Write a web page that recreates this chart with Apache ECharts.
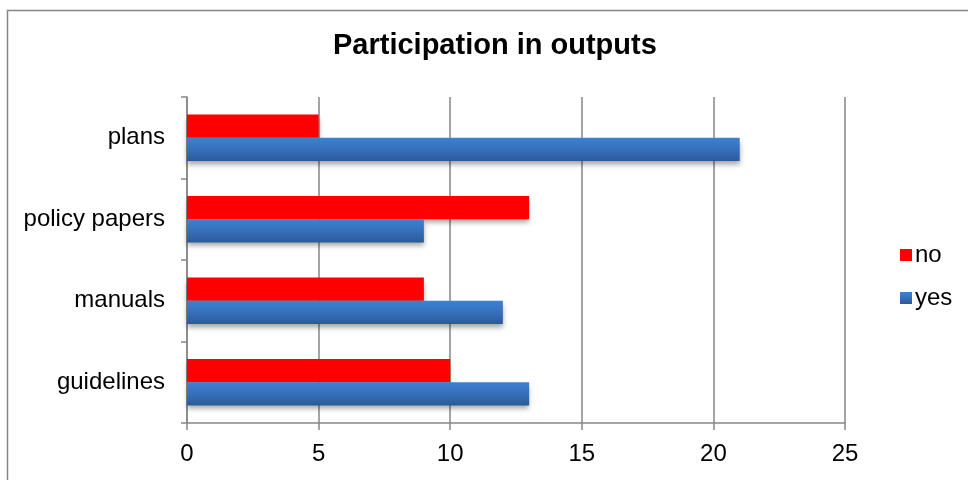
<!DOCTYPE html>
<html>
<head>
<meta charset="utf-8">
<script src="https://cdn.jsdelivr.net/npm/echarts@6/dist/echarts.min.js"></script>
<style>
  html, body { margin: 0; padding: 0; background: #fff; }
  #chart { width: 968px; height: 480px; }
</style>
</head>
<body>
<div id="chart"></div>
<script>
// Output types, listed bottom to top on the category axis
const categories = ['guidelines', 'manuals', 'policy papers', 'plans'];
const noValues = [10, 9, 13, 5];
const yesValues = [13, 12, 9, 21];
const xTicks = { min: 0, max: 25, interval: 5 };

const font = 'Liberation Sans, Arial, sans-serif';
const gray = '#868686';

const blueFill = new echarts.graphic.LinearGradient(0, 0, 0, 1, [
  { offset: 0, color: '#3f80d2' },
  { offset: 0.5, color: '#3670bb' },
  { offset: 1, color: '#2b5a98' }
]);

const chart = echarts.init(document.getElementById('chart'), null, { renderer: 'canvas' });

chart.setOption({
  animation: false,
  backgroundColor: '#fff',
  textStyle: { fontFamily: font },
  graphic: [{
    type: 'rect',
    shape: { x: 7.5, y: 10.5, width: 1000, height: 600 },
    style: { fill: 'none', stroke: gray, lineWidth: 1.5 },
    silent: true,
    z: -1
  }],
  title: {
    text: 'Participation in outputs',
    left: 333,
    top: 31,
    padding: 0,
    textStyle: { fontFamily: font, fontSize: 29, fontWeight: 'bold', color: '#000' }
  },
  legend: {
    orient: 'vertical',
    left: 900,
    top: 243,
    padding: 0,
    itemWidth: 12,
    itemHeight: 12,
    itemGap: 19,
    icon: 'rect',
    data: ['no', 'yes'],
    textStyle: { fontFamily: font, fontSize: 24, color: '#000', padding: [0, 0, 0, -2] }
  },
  grid: { left: 187, right: 123, top: 97, bottom: 57, containLabel: false },
  xAxis: {
    type: 'value',
    min: xTicks.min,
    max: xTicks.max,
    interval: xTicks.interval,
    axisLine: { show: true, lineStyle: { color: gray, width: 1.5 } },
    axisTick: { show: true, length: 7, lineStyle: { color: gray, width: 1.5 } },
    axisLabel: { color: '#000', fontSize: 24, fontFamily: font, margin: 19 },
    splitLine: { show: true, lineStyle: { color: gray, width: 1.5 } }
  },
  yAxis: {
    type: 'category',
    data: categories,
    axisLine: { show: true, lineStyle: { color: gray, width: 1.5 } },
    axisTick: { show: true, length: 6, lineStyle: { color: gray, width: 1.5 } },
    axisLabel: { color: '#000', fontSize: 24, fontFamily: font, margin: 22 },
    splitLine: { show: false }
  },
  series: [
    {
      name: 'no',
      type: 'bar',
      data: noValues,
      barGap: '0%',
      barCategoryGap: '43%',
      itemStyle: {
        color: '#ff0000',
        shadowColor: 'rgba(0,0,0,0.35)',
        shadowBlur: 5,
        shadowOffsetY: 4
      }
    },
    {
      name: 'yes',
      type: 'bar',
      data: yesValues,
      barGap: '0%',
      barCategoryGap: '43%',
      itemStyle: {
        color: blueFill,
        shadowColor: 'rgba(0,0,0,0.35)',
        shadowBlur: 5,
        shadowOffsetY: 4
      }
    }
  ]
});
</script>
</body>
</html>
